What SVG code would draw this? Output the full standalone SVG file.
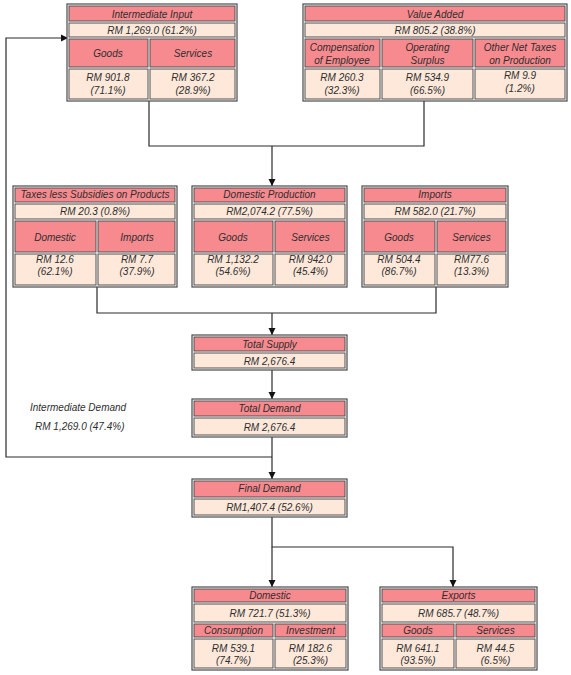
<svg xmlns="http://www.w3.org/2000/svg" width="571" height="675" viewBox="0 0 571 675">
<style>
.frame{fill:#ffffff;stroke:#4a4a4a;stroke-width:1.2}
.h{fill:#F68A8E;stroke:#505050;stroke-width:1}
.v{fill:#FDE8DA;stroke:#505050;stroke-width:1}
text{font-family:"Liberation Sans",Arial,sans-serif;font-size:10px;font-style:italic;fill:#2e2e2e;text-anchor:middle}
.conn{fill:none;stroke:#2a2a2a;stroke-width:1.2}
</style>
<defs>
<marker id="arr" markerUnits="userSpaceOnUse" markerWidth="8" markerHeight="8" refX="7" refY="4" orient="auto">
<path d="M0,0.5 L7,4 L0,7.5 Z" fill="#111"/>
</marker>
</defs>
<rect width="571" height="675" fill="#ffffff"/>

<g id="connectors">
<path class="conn" d="M149,101 V146 H424 V101"/>
<path class="conn" d="M272,146 V186" marker-end="url(#arr)"/>
<path class="conn" d="M97,287 V313 H436 V287"/>
<path class="conn" d="M272,313 V335" marker-end="url(#arr)"/>
<path class="conn" d="M272,370 V399" marker-end="url(#arr)"/>
<path class="conn" d="M272,437 V479" marker-end="url(#arr)"/>
<path class="conn" d="M272,457 H6 V38 H68" marker-end="url(#arr)"/>
<path class="conn" d="M272,517 V547 H453 V587" marker-end="url(#arr)"/>
<path class="conn" d="M272,547 V587" marker-end="url(#arr)"/>
</g>

<g id="intermediate-input">
<rect class="frame" x="67" y="4" width="170" height="97"/>
<rect class="h" x="69" y="6" width="166" height="15"/>
<rect class="v" x="69" y="23" width="166" height="14"/>
<rect class="h" x="69" y="39" width="79" height="28"/>
<rect class="h" x="150" y="39" width="85" height="28"/>
<rect class="v" x="69" y="69" width="79" height="30"/>
<rect class="v" x="150" y="69" width="85" height="30"/>
<text x="152" y="17.5">Intermediate Input</text>
<text x="152" y="34">RM 1,269.0 (61.2%)</text>
<text x="108" y="56.5">Goods</text>
<text x="193" y="56.5">Services</text>
<text x="108" y="80.5">RM 901.8</text>
<text x="108" y="93.5">(71.1%)</text>
<text x="193" y="80.5">RM 367.2</text>
<text x="193" y="93.5">(28.9%)</text>
</g>

<g id="value-added">
<rect class="frame" x="303" y="4" width="264" height="97"/>
<rect class="h" x="305" y="6" width="260" height="15"/>
<rect class="v" x="305" y="23" width="260" height="14"/>
<rect class="h" x="305" y="39" width="75" height="28"/>
<rect class="h" x="382" y="39" width="91" height="28"/>
<rect class="h" x="475" y="39" width="90" height="28"/>
<rect class="v" x="305" y="69" width="75" height="30"/>
<rect class="v" x="382" y="69" width="91" height="30"/>
<rect class="v" x="475" y="69" width="90" height="30"/>
<text x="435" y="17.5">Value Added</text>
<text x="435" y="34">RM 805.2 (38.8%)</text>
<text x="342" y="50.5">Compensation</text>
<text x="342" y="63.5">of Employee</text>
<text x="427.5" y="50.5">Operating</text>
<text x="427.5" y="63.5">Surplus</text>
<text x="520" y="50.5">Other Net Taxes</text>
<text x="520" y="63.5">on Production</text>
<text x="342" y="80.5">RM 260.3</text>
<text x="342" y="93.5">(32.3%)</text>
<text x="427.5" y="80.5">RM 534.9</text>
<text x="427.5" y="93.5">(66.5%)</text>
<text x="520" y="79">RM 9.9</text>
<text x="520" y="92">(1.2%)</text>
</g>

<g id="taxes-less-subsidies">
<rect class="frame" x="13" y="186" width="164" height="101"/>
<rect class="h" x="15" y="188" width="160" height="14"/>
<rect class="v" x="15" y="204" width="160" height="15"/>
<rect class="h" x="15" y="221" width="81" height="31"/>
<rect class="h" x="98" y="221" width="77" height="31"/>
<rect class="v" x="15" y="254" width="81" height="31"/>
<rect class="v" x="98" y="254" width="77" height="31"/>
<text x="95" y="198">Taxes less Subsidies on Products</text>
<text x="95" y="215">RM 20.3 (0.8%)</text>
<text x="55" y="240.5">Domestic</text>
<text x="137" y="240.5">Imports</text>
<text x="55" y="262.5">RM 12.6</text>
<text x="55" y="274.5">(62.1%)</text>
<text x="137" y="262.5">RM 7.7</text>
<text x="137" y="274.5">(37.9%)</text>
</g>

<g id="domestic-production">
<rect class="frame" x="192" y="186" width="155" height="101"/>
<rect class="h" x="194" y="188" width="151" height="14"/>
<rect class="v" x="194" y="204" width="151" height="15"/>
<rect class="h" x="194" y="221" width="79" height="31"/>
<rect class="h" x="275" y="221" width="70" height="31"/>
<rect class="v" x="194" y="254" width="79" height="31"/>
<rect class="v" x="275" y="254" width="70" height="31"/>
<text x="269.5" y="198">Domestic Production</text>
<text x="269.5" y="215">RM2,074.2 (77.5%)</text>
<text x="233" y="240.5">Goods</text>
<text x="310.5" y="240.5">Services</text>
<text x="233" y="262.5">RM 1,132.2</text>
<text x="233" y="274.5">(54.6%)</text>
<text x="310.5" y="262.5">RM 942.0</text>
<text x="310.5" y="274.5">(45.4%)</text>
</g>

<g id="imports">
<rect class="frame" x="362" y="186" width="146" height="101"/>
<rect class="h" x="364" y="188" width="142" height="14"/>
<rect class="v" x="364" y="204" width="142" height="15"/>
<rect class="h" x="364" y="221" width="71" height="31"/>
<rect class="h" x="437" y="221" width="69" height="31"/>
<rect class="v" x="364" y="254" width="71" height="31"/>
<rect class="v" x="437" y="254" width="69" height="31"/>
<text x="435" y="198">Imports</text>
<text x="435" y="215">RM 582.0 (21.7%)</text>
<text x="399" y="240.5">Goods</text>
<text x="471.5" y="240.5">Services</text>
<text x="399" y="262.5">RM 504.4</text>
<text x="399" y="274.5">(86.7%)</text>
<text x="471.5" y="262.5">RM77.6</text>
<text x="471.5" y="274.5">(13.3%)</text>
</g>

<g id="total-supply">
<rect class="frame" x="192" y="335" width="155" height="35"/>
<rect class="h" x="194" y="337" width="151" height="14"/>
<rect class="v" x="194" y="353" width="151" height="15"/>
<text x="269.5" y="347.5">Total Supply</text>
<text x="269.5" y="364.5">RM 2,676.4</text>
</g>

<g id="total-demand">
<rect class="frame" x="192" y="399" width="155" height="38"/>
<rect class="h" x="194" y="401" width="151" height="15"/>
<rect class="v" x="194" y="418" width="151" height="17"/>
<text x="269.5" y="411.5">Total Demand</text>
<text x="269.5" y="430.5">RM 2,676.4</text>
</g>

<g id="intermediate-demand-label">
<text x="30" y="411" style="text-anchor:start">Intermediate Demand</text>
<text x="35" y="430" style="text-anchor:start">RM  1,269.0 (47.4%)</text>
</g>

<g id="final-demand">
<rect class="frame" x="192" y="479" width="155" height="38"/>
<rect class="h" x="194" y="481" width="151" height="16"/>
<rect class="v" x="194" y="499" width="151" height="16"/>
<text x="269.5" y="492">Final Demand</text>
<text x="269.5" y="511">RM1,407.4 (52.6%)</text>
</g>

<g id="domestic">
<rect class="frame" x="192" y="587" width="156" height="83"/>
<rect class="h" x="194" y="589" width="152" height="13"/>
<rect class="v" x="194" y="604" width="152" height="18"/>
<rect class="h" x="194" y="624" width="79" height="13"/>
<rect class="h" x="275" y="624" width="71" height="13"/>
<rect class="v" x="194" y="639" width="79" height="29"/>
<rect class="v" x="275" y="639" width="71" height="29"/>
<text x="270" y="598.5">Domestic</text>
<text x="270" y="616.5">RM 721.7 (51.3%)</text>
<text x="233.5" y="634">Consumption</text>
<text x="310.5" y="634">Investment</text>
<text x="233.5" y="651.5">RM 539.1</text>
<text x="233.5" y="663.5">(74.7%)</text>
<text x="310.5" y="651.5">RM 182.6</text>
<text x="310.5" y="663.5">(25.3%)</text>
</g>

<g id="exports">
<rect class="frame" x="380" y="587" width="157" height="83"/>
<rect class="h" x="382" y="589" width="153" height="13"/>
<rect class="v" x="382" y="604" width="153" height="18"/>
<rect class="h" x="382" y="624" width="72" height="13"/>
<rect class="h" x="456" y="624" width="79" height="13"/>
<rect class="v" x="382" y="639" width="72" height="29"/>
<rect class="v" x="456" y="639" width="79" height="29"/>
<text x="458.5" y="598.5">Exports</text>
<text x="458.5" y="616.5">RM 685.7 (48.7%)</text>
<text x="418" y="634">Goods</text>
<text x="495.5" y="634">Services</text>
<text x="418" y="651.5">RM 641.1</text>
<text x="418" y="663.5">(93.5%)</text>
<text x="495.5" y="651.5">RM 44.5</text>
<text x="495.5" y="663.5">(6.5%)</text>
</g>
</svg>
